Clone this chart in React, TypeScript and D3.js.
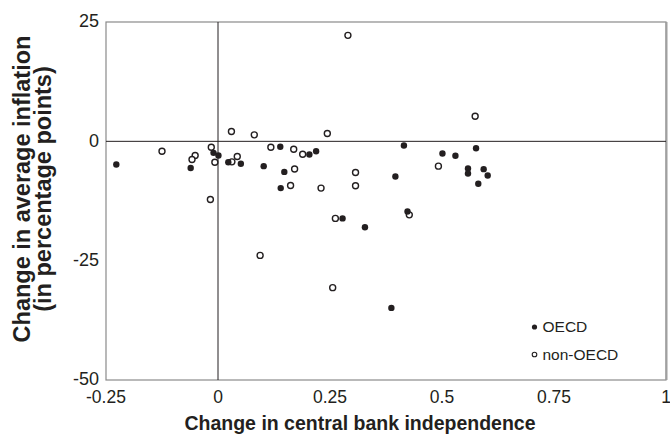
import * as d3 from "d3";

// change in CBI (x) vs change in average inflation (y)
const oecdX = [-0.227, -0.01, 0.001, -0.061, 0.023, 0.051, 0.139, 0.102, 0.148, 0.14, 0.204, 0.219, 0.415, 0.501, 0.53, 0.576, 0.558, 0.558, 0.581, 0.396, 0.593, 0.602, 0.278, 0.328, 0.423, 0.387];
const oecdY = [-4.85, -2.41, -2.97, -5.6, -4.37, -4.7, -1.15, -5.2, -6.4, -9.8, -2.76, -2.07, -0.88, -2.55, -3.03, -1.44, -5.69, -6.74, -8.9, -7.36, -5.83, -7.15, -16.15, -18.0, -14.7, -34.9];

const nonOecdX = [0.03, 0.081, -0.125, -0.015, -0.051, -0.058, -0.007, 0.043, 0.031, 0.118, 0.169, 0.171, 0.162, -0.017, 0.29, 0.574, 0.244, 0.189, 0.492, 0.307, 0.307, 0.23, 0.094, 0.262, 0.427, 0.256];
const nonOecdY = [2.05, 1.36, -2.07, -1.23, -2.97, -3.8, -4.37, -3.18, -4.3, -1.23, -1.65, -5.8, -9.25, -12.2, 22.2, 5.25, 1.63, -2.7, -5.2, -6.53, -9.3, -9.8, -23.9, -16.15, -15.4, -30.65];

const xTicks = [-0.25, 0, 0.25, 0.5, 0.75, 1];
const xTickLabels = ["-0.25", "0", "0.25", "0.5", "0.75", "1"];
const yTicks = [25, 0, -25, -50];
const yTickLabels = ["25", "0", "-25", "-50"];

const legendLabels = ["OECD", "non-OECD"];

export default function App() {
  const width = 670;
  const height = 434;
  const margin = { top: 22, right: 4, bottom: 54, left: 106 };
  const font = "'Liberation Sans', Arial, Helvetica, sans-serif";
  const ink = "#231f20";

  const x = d3.scaleLinear().domain([-0.25, 1]).range([margin.left, width - margin.right]);
  const y = d3.scaleLinear().domain([-50, 25]).range([height - margin.bottom, margin.top]);

  const oecd = oecdX.map((v, i) => ({ x: v, y: oecdY[i] }));
  const nonOecd = nonOecdX.map((v, i) => ({ x: v, y: nonOecdY[i] }));

  const [x0, x1] = x.range();
  const [y0, y1] = y.range();

  return (
    <svg
      width={width}
      height={height}
      style={{ position: "absolute", left: 0, top: 0, background: "#fff" }}
      fontFamily={font}
    >
      {/* frame */}
      <rect x={x0} y={y1} width={x1 - x0} height={y0 - y1} fill="none" stroke="#8a8a8a" strokeWidth={1.2} />
      <line x1={x1 + 0.5} x2={x1 + 0.5} y1={y1} y2={y0} stroke="#a0a0a0" strokeWidth={2} />

      {/* zero lines */}
      <line x1={x0} x2={x1} y1={y(0)} y2={y(0)} stroke={ink} strokeWidth={1} />
      <line x1={x(0)} x2={x(0)} y1={y1} y2={y0} stroke={ink} strokeWidth={1} />

      {/* y ticks */}
      {yTicks.map((t, i) => (
        <text key={t} x={x0 - 7} y={y(t) - 1} dy="0.35em" textAnchor="end" fontSize={18} fill={ink}>
          {yTickLabels[i]}
        </text>
      ))}
      {/* x ticks */}
      {xTicks.map((t, i) => (
        <text key={t} x={x(t)} y={y0 + 16.5} dy="0.35em" textAnchor="middle" fontSize={17.5} fill={ink}>
          {xTickLabels[i]}
        </text>
      ))}

      {/* points */}
      {nonOecd.map((d, i) => (
        <circle key={"n" + i} cx={x(d.x)} cy={y(d.y)} r={3} fill="#fff" stroke={ink} strokeWidth={1.4} />
      ))}
      {oecd.map((d, i) => (
        <circle key={"o" + i} cx={x(d.x)} cy={y(d.y)} r={3.2} fill={ink} />
      ))}

      {/* legend */}
      <circle cx={534.5} cy={327} r={2.6} fill={ink} />
      <text x={542.5} y={327} dy="0.35em" fontSize={15.5} fill={ink}>{legendLabels[0]}</text>
      <circle cx={534.5} cy={354.5} r={2.3} fill="#fff" stroke={ink} strokeWidth={1.1} />
      <text x={542.5} y={354.5} dy="0.35em" fontSize={15.5} fill={ink}>{legendLabels[1]}</text>

      {/* axis titles */}
      <text x={360} y={430} textAnchor="middle" fontSize={19.5} fontWeight="bold" fill={ink}>
        Change in central bank independence
      </text>
      <g transform="translate(22,189) rotate(-90)">
        <text x={0} y={0} dy="0.35em" textAnchor="middle" fontSize={23.5} fontWeight="bold" fill={ink}>
          Change in average inflation
        </text>
        <text x={0} y={21} dy="0.35em" textAnchor="middle" fontSize={23.5} fontWeight="bold" fill={ink}>
          (in percentage points)
        </text>
      </g>
    </svg>
  );
}
